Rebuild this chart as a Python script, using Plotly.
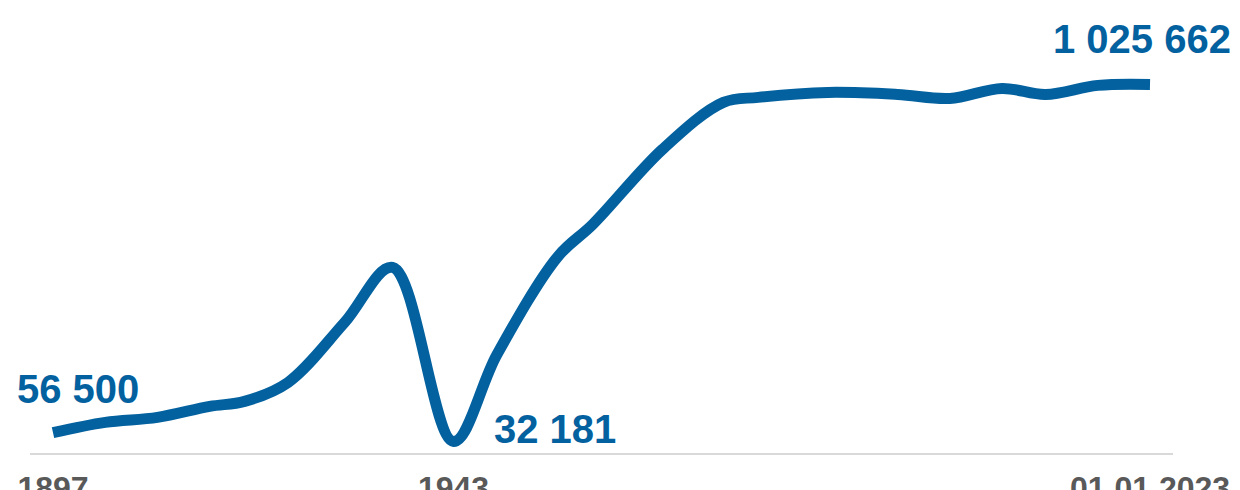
import plotly.graph_objects as go

years = [1897, 1903, 1909, 1915, 1919, 1924, 1930.5, 1936, 1943, 1948, 1955, 1959,
         1967, 1974, 1978, 1986, 1994, 2000, 2006, 2011, 2017, 2023]
population = [56500, 85200, 99100, 129700, 143600, 196500, 363500, 516600, 32181,
              274400, 547200, 636200, 845000, 975800, 989700, 1003600, 998000,
              986900, 1014700, 998000, 1023100, 1025662]

tick_years = [1897, 1943, 2023]
tick_labels = ["1897", "1943", "01.01.2023"]

label_years = [1897, 1943, 2023]
label_values = [56500, 32181, 1025662]
label_texts = ["56 500", "32 181", "1 025 662"]

BLUE = "#03619f"
FONT = "Liberation Sans, Arial, sans-serif"

fig = go.Figure()
fig.add_trace(go.Scatter(
    x=years, y=population, mode="lines",
    line=dict(color=BLUE, width=11, shape="spline", smoothing=1.0),
    hoverinfo="skip", showlegend=False,
))

shifts = [(-38, "left", 20), (39, "left", -12), (83, "right", 21)]
for yr, v, t, (xs, xa, ys) in zip(label_years, label_values, label_texts, shifts):
    fig.add_annotation(
        x=yr, y=v, text=f"<b>{t}</b>", showarrow=False,
        xanchor=xa, yanchor="bottom", xshift=xs, yshift=ys,
        font=dict(family=FONT, size=40, color=BLUE),
    )

fig.update_layout(
    template="none",
    width=1232, height=482,
    margin=dict(l=22, r=67, t=12, b=37, autoexpand=False),
    paper_bgcolor="white", plot_bgcolor="white",
    xaxis=dict(
        range=[1894.36, 2025.64], showgrid=False, zeroline=False,
        showline=True, linecolor="#d9d9d9", linewidth=2,
        tickmode="array", tickvals=tick_years,
        ticktext=[f"<b>{t}</b>" for t in tick_labels],
        tickfont=dict(family=FONT, size=32, color="#595959"),
        ticks="", automargin=False, ticklabelstandoff=6,
    ),
    yaxis=dict(range=[0, 1205100], visible=False, automargin=False),
)

fig.write_html("out.html")
